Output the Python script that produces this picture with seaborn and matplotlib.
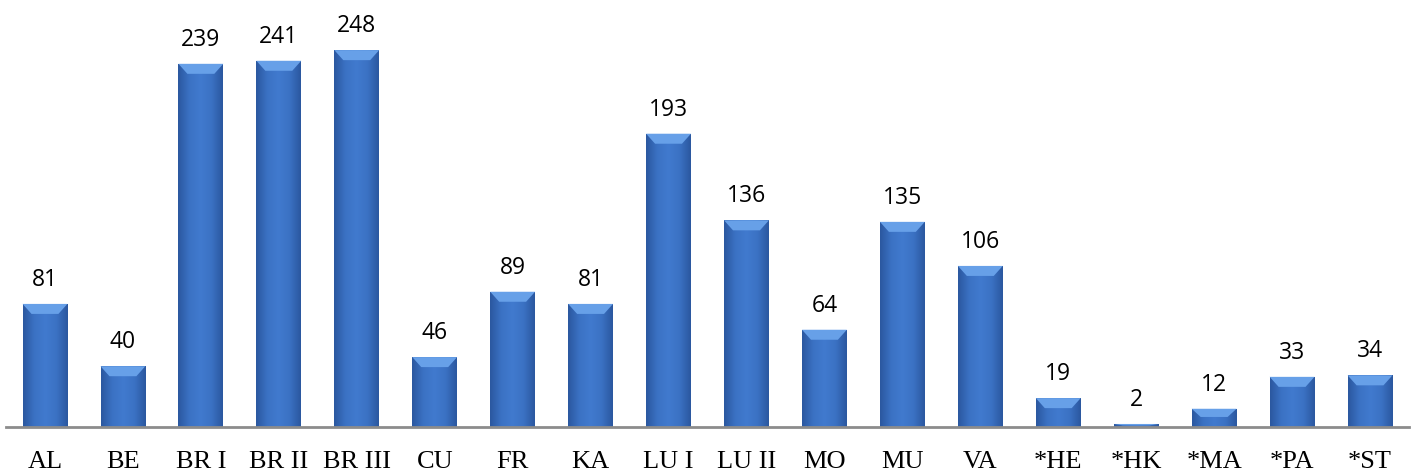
import numpy as np
import pandas as pd
import matplotlib
matplotlib.use("Agg")
import matplotlib.pyplot as plt
import seaborn as sns
from matplotlib.patches import Polygon
from matplotlib.colors import LinearSegmentedColormap

categories = ["AL", "BE", "BR I", "BR II", "BR III", "CU", "FR", "KA", "LU I", "LU II",
              "MO", "MU", "VA", "*HE", "*HK", "*MA", "*PA", "*ST"]
values = [81, 40, 239, 241, 248, 46, 89, 81, 193, 136, 64, 135, 106, 19, 2, 12, 33, 34]

df = pd.DataFrame({"cat": categories, "val": values})

sns.set_theme(style="white")
fig = plt.figure(figsize=(14.11, 4.73), dpi=100)
ax = fig.add_axes([6 / 1411, 46 / 473, 1403 / 1411, 427 / 473])

sns.barplot(data=df, x="cat", y="val", color="#3b70c2", width=0.575, ax=ax,
            saturation=1, edgecolor="none")

ax.set_xlim(-0.5, len(categories) - 0.5)
ax.set_ylim(0, 281)

# gradient / bevel effect on each bar drawn by seaborn
cmap = LinearSegmentedColormap.from_list("bar", ["#2b58a0", "#3b72c4", "#417ace", "#3b72c4", "#2b58a0"])
grad = np.linspace(0, 1, 64).reshape(1, -1)
for p in list(ax.patches):
    x0, w, h = p.get_x(), p.get_width(), p.get_height()
    im = ax.imshow(grad, cmap=cmap, aspect="auto", extent=(x0, x0 + w, 0, h),
                   zorder=p.get_zorder() + 0.1, interpolation="bicubic")
    im.set_clip_path(p)
    bev = min(10 / 1.52, h * 0.45)
    dx = w * 0.2
    top = Polygon([(x0, h), (x0 + w, h), (x0 + w - dx, h - bev), (x0 + dx, h - bev)],
                  closed=True, facecolor="#67a0e8", edgecolor="none",
                  zorder=p.get_zorder() + 0.2)
    ax.add_patch(top)

# value labels
for i, v in enumerate(values):
    ax.annotate(str(v), (i, v), xytext=(0, 13), textcoords="offset points",
                ha="center", va="baseline", fontsize=16.5, family="Open Sans", color="#000000")

ax.set_xlabel("")
ax.set_ylabel("")
ax.set_yticks([])
ax.set_xticks(range(len(categories)))
ax.set_xticklabels(categories, family="Liberation Serif", fontsize=19, color="#000000")
ax.tick_params(axis="x", length=0, pad=17)
for s in ["top", "right", "left"]:
    ax.spines[s].set_visible(False)
ax.spines["bottom"].set_color("#8c8c8c")
ax.spines["bottom"].set_linewidth(2)
ax.spines["bottom"].set_zorder(5)
ax.set_facecolor("white")
fig.patch.set_facecolor("white")

fig.savefig("out.png", dpi=100)
